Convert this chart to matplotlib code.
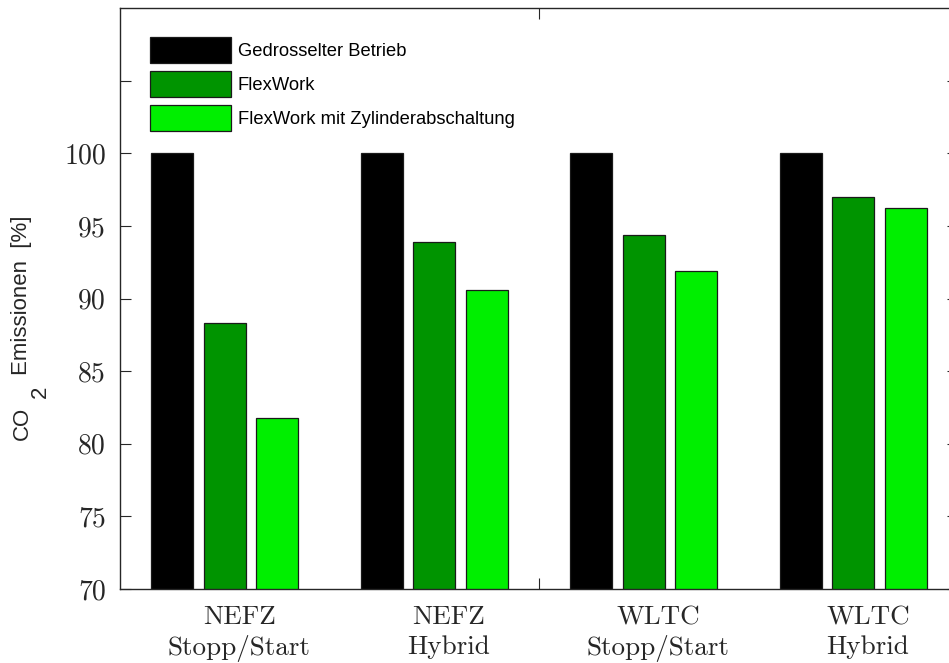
import matplotlib
matplotlib.use("Agg")
import matplotlib.pyplot as plt
import numpy as np

# data
zyklen = ["NEFZ\nStopp/Start", "NEFZ\nHybrid", "WLTC\nStopp/Start", "WLTC\nHybrid"]
serien = ["Gedrosselter Betrieb", "FlexWork", "FlexWork mit Zylinderabschaltung"]
gedrosselt = [100, 100, 100, 100]
flexwork = [88.3, 93.9, 94.4, 97.0]
flexwork_za = [81.8, 90.6, 91.9, 96.2]
farben = ["#000000", "#009400", "#00ef00"]

W, H = 949, 663
fig = plt.figure(figsize=(W / 100, H / 100), dpi=100)
# right spine sits just outside the picture, as in the reference
ax = fig.add_axes([120 / W, 1 - 589 / H, 838 / W, 581 / H])

x = np.arange(1, len(zyklen) + 1)
offs = [-0.25, 0.0, 0.25]
for werte, off, farbe, name in zip([gedrosselt, flexwork, flexwork_za], offs, farben, serien):
    ax.bar(x + off, werte, width=0.2, color=farbe, edgecolor="#1a1a1a",
           linewidth=0.9, label=name, zorder=2)

ax.set_xlim(0.5, 4.5)
ax.set_ylim(70, 110)

# y axis: labels only up to 100
yt = np.arange(70, 110, 5)
ax.set_yticks(yt)
ax.set_yticklabels([str(v) if v <= 100 else "" for v in yt], fontfamily="cmr10", fontsize=20)
ax.tick_params(axis="y", direction="in", length=8, width=0.8, right=True,
               colors="#262626", pad=10)

# x axis: category labels (sit a bit right of the groups in the original), no ticks
ax.set_xticks(x + 0.07)
ax.set_xticklabels(zyklen, fontfamily="cmr10", fontsize=19.5, linespacing=1.3)
ax.tick_params(axis="x", which="major", length=0, pad=12, colors="#262626")
ax.set_xticks([2.5], minor=True)
ax.tick_params(axis="x", which="minor", direction="in", length=8, width=0.8,
               top=True, bottom=True, color="#262626")

for s in ax.spines.values():
    s.set_color("#262626")
    s.set_linewidth(1.0)

# y label pieces: "CO" with a lowered "2" and the rest
fig.text(22 / W, 1 - 423 / H, "CO", rotation=90, ha="center", va="center",
         fontfamily="Liberation Sans", fontsize=16, color="#262626")
fig.text(40 / W, 1 - 392 / H, "2", rotation=90, ha="center", va="center",
         fontfamily="Liberation Sans", fontsize=16, color="#262626")
fig.text(22 / W, 1 - 295 / H, "Emissionen  [%]", rotation=90, ha="center", va="center",
         fontfamily="Liberation Sans", fontsize=16, color="#262626")

leg = ax.legend(loc="upper left", bbox_to_anchor=(30 / 838, (589 - 37) / 581),
                frameon=False, borderpad=0, borderaxespad=0, handlelength=4.4,
                handleheight=1.8, labelspacing=0.45, handletextpad=0.38,
                prop={"family": "Liberation Sans", "size": 13.2})
for t in leg.get_texts():
    t.set_color("#000000")

fig.savefig("out.png", dpi=100)
